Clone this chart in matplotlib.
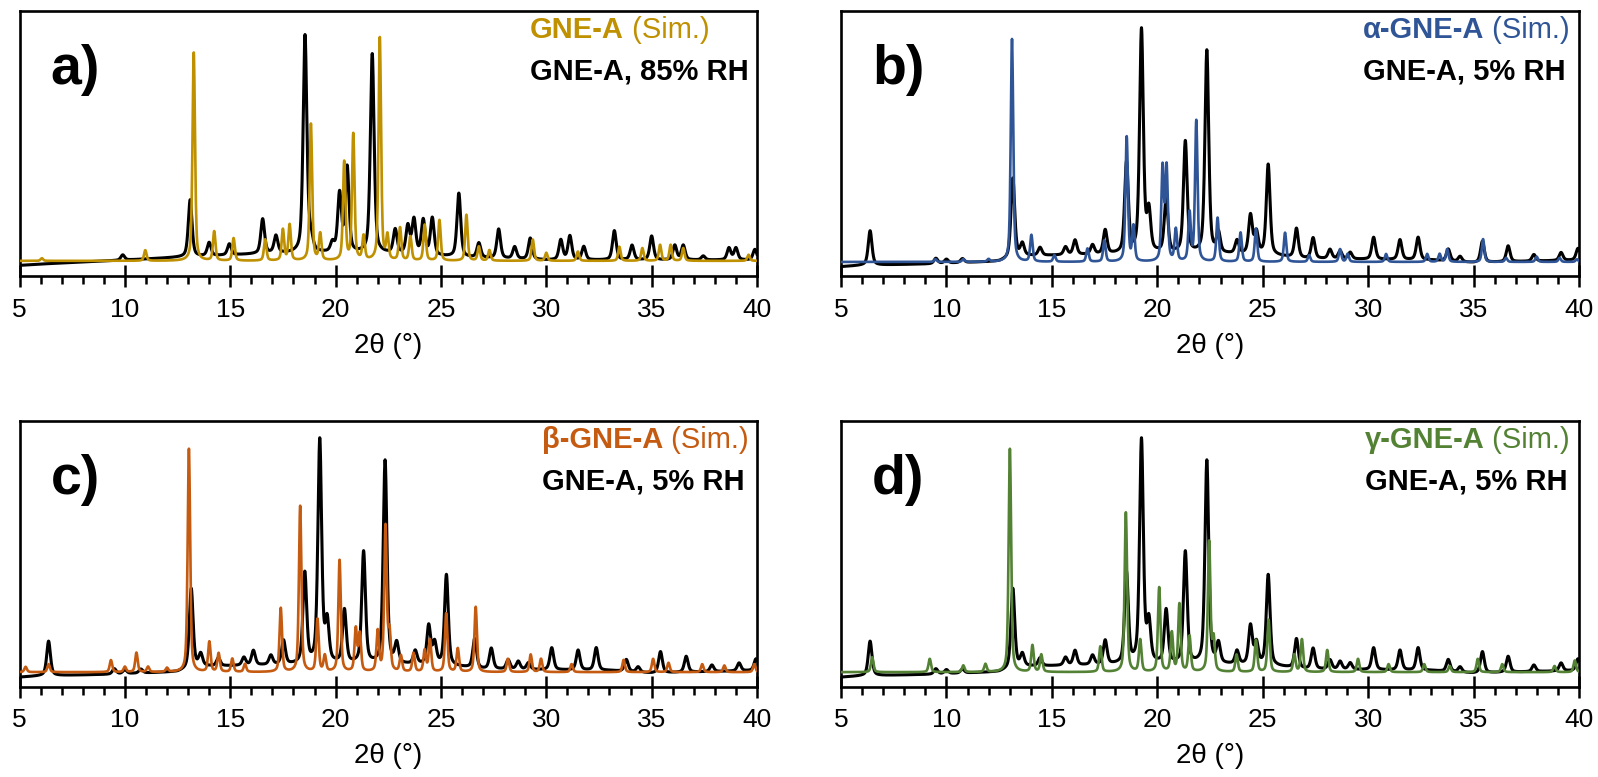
import numpy as np
import matplotlib.pyplot as plt
from matplotlib.ticker import MultipleLocator

plt.rcParams['font.family'] = ['Liberation Sans', 'DejaVu Sans']

# ---- data: peak position (2theta, deg) and peak height above background (% of panel height)
# experimental GNE-A, 85% RH (panel a)
rh85_pos = [9.9, 13.10, 14.0, 14.96, 16.54, 17.17, 18.55, 18.83, 19.85, 20.19, 20.55, 21.74,
            22.83, 23.43, 23.72, 24.16, 24.59, 25.85, 26.8, 27.74, 28.5, 29.24, 30.69, 31.12,
            31.78, 33.23, 34.07, 35.0, 36.1, 36.5, 37.45, 38.67, 39.0, 39.9]
rh85_hts = [2, 21.5, 5, 4.2, 13, 6.5, 82, 5, 3.5, 22, 32, 75,
            9, 10.5, 13, 13, 14, 24, 5.5, 11, 4.5, 8, 7.5, 9,
            5, 11, 5.5, 9, 5.5, 5.5, 1.5, 4.5, 4.5, 4]
rh85_bg_pos = [5, 6, 10, 12.5, 17, 22, 26, 30, 40]
rh85_bg = [4.0, 4.5, 6.0, 7.0, 8.5, 8.5, 7.0, 6.0, 6.0]

# experimental GNE-A, 5% RH (panels b, c, d)
rh5_pos = [6.38, 9.5, 10.0, 10.76, 13.15, 13.6, 14.44, 15.65, 16.1, 16.93, 17.53, 18.54,
           19.25, 19.6, 20.42, 21.33, 22.35, 22.9, 23.78, 24.42, 24.7, 25.26, 26.6, 27.39,
           28.19, 28.67, 29.15, 30.26, 31.51, 32.37, 33.8, 34.36, 35.42, 36.64, 37.86, 39.15, 39.95]
rh5_hts = [13, 2, 1.5, 1.5, 30, 4.5, 3, 3, 5.5, 3.5, 9, 34,
           84, 15, 20, 42, 76.5, 7.5, 5, 14.5, 8, 34, 11, 7.8,
           3.5, 3, 2.5, 8.3, 7.5, 8.5, 4.5, 2, 8, 6, 2.5, 3, 4.4]
rh5_bg_pos = [5, 6, 9, 12.5, 13.5, 20, 25, 27, 33, 35, 40]
rh5_bg = [3.5, 4.0, 4.5, 5.5, 7.5, 8.5, 8.0, 6.5, 6.0, 5.0, 6.0]

# simulated GNE-A (panel a)
sim_a_pos = [6.06, 10.97, 13.27, 14.24, 15.16, 16.66, 17.5, 17.82, 18.83, 19.27, 20.41, 20.84,
             21.33, 22.1, 22.46, 23.06, 23.55, 24.23, 24.93, 26.21, 26.8, 27.3, 29.36, 30.0,
             31.5, 33.47, 34.56, 35.4, 35.9, 36.5, 39.6]
sim_a_hts = [1, 4, 78.5, 11, 8.5, 8, 11.7, 13.5, 51.5, 10, 37, 47.5,
             9, 84, 9, 12.3, 9, 13.5, 15.3, 17.3, 5.3, 4, 8, 3,
             3.5, 5.3, 4.8, 6, 6, 4.8, 2.3]

# simulated alpha-GNE-A (panel b)
sim_b_pos = [9.48, 10.8, 12.0, 13.11, 14.03, 15.12, 16.69, 17.49, 18.55, 18.87, 20.25, 20.44,
             20.88, 21.53, 21.85, 22.86, 23.95, 24.68, 26.06, 27.2, 28.67, 29.03, 30.85, 32.8,
             33.39, 33.75, 35.45, 36.54, 37.99, 39.08, 39.9]
sim_b_hts = [1, 1, 1, 84, 10, 2.5, 5, 8, 47, 13, 35, 35,
             12, 18, 53, 16.5, 11, 12.4, 11, 2.5, 4.8, 3, 3, 3,
             3, 4.8, 8.6, 1.5, 2, 1.5, 1]

# simulated beta-GNE-A (panel c)
sim_c_pos = [5.29, 6.38, 9.34, 10.0, 10.55, 11.1, 12.0, 13.04, 14.01, 14.45, 15.1, 15.7,
             17.4, 18.32, 19.14, 19.49, 20.19, 20.96, 21.15, 22.0, 22.37, 22.56, 23.1, 23.7,
             24.23, 24.48, 25.25, 25.8, 26.65, 28.18, 29.26, 29.75, 31.2, 33.67, 35.07, 35.8,
             37.4, 38.45, 39.87]
sim_c_hts = [2, 3, 4.5, 2, 7.3, 2, 1.5, 84, 11.3, 7, 5, 3,
             24, 62.4, 19.7, 6, 42, 16, 14, 15, 54.5, 14, 6, 7,
             8, 12, 22, 8.8, 24.5, 5, 6.6, 5, 3, 4.6, 5, 3.5,
             3, 2.5, 3]

# simulated gamma-GNE-A (panel d)
sim_d_pos = [6.48, 9.21, 10.8, 11.85, 13.01, 14.08, 14.5, 17.3, 18.51, 19.19, 20.09, 20.69,
             21.05, 21.53, 22.46, 22.67, 23.76, 24.68, 25.28, 26.5, 26.86, 28.06, 29.52, 30.97,
             32.66, 33.87, 35.2, 36.36, 38.84, 39.8]
sim_d_hts = [5.6, 5, 2.5, 3, 84, 10, 6.5, 9.6, 60, 12, 31.7, 14.6,
             25.4, 13.3, 48.8, 12, 6.5, 12, 19.6, 6.5, 12.3, 8.3, 5, 3,
             3, 2.3, 5, 3, 2.3, 4.4]
sim_bg = [5.7, 5.3, 5.4, 5.4]

panel_labels = ['a)', 'b)', 'c)', 'd)']
sim_names = ['GNE-A', 'α-GNE-A', 'β-GNE-A', 'γ-GNE-A']
exp_names = ['GNE-A, 85% RH', 'GNE-A, 5% RH', 'GNE-A, 5% RH', 'GNE-A, 5% RH']
sim_colors = ['#BF9000', '#2F5597', '#C55A11', '#548235']

# ---- plot settings
W, H = 1598, 777
fs_label = 40   # panel letter
fs_key = 21     # key text
fs_tick = 19
fs_xlabel = 20
lw_exp = 2.2
lw_sim = 1.9
fwhm_exp = 0.21
fwhm_sim = 0.14

# axes boxes in pixels: left, top, width, height
boxes = [(19.5, 10.7, 737.5, 265.3), (841, 10.7, 738, 265.3),
         (19.5, 420.7, 737.5, 265.8), (841, 420.7, 738, 265.8)]

x = np.linspace(5, 40, 3501)


def profile(pos, hts, fwhm):
    # pseudo-Voigt peaks
    y = np.zeros_like(x)
    for p, h in zip(pos, hts):
        d = (x - p) / (fwhm / 2)
        y += h * (0.5 / (1 + d ** 2) + 0.5 * np.exp(-np.log(2) * d ** 2))
    return y


exp_85 = profile(rh85_pos, rh85_hts, fwhm_exp) + np.interp(x, rh85_bg_pos, rh85_bg)
exp_5 = profile(rh5_pos, rh5_hts, fwhm_exp) + np.interp(x, rh5_bg_pos, rh5_bg)
exp_curves = [exp_85, exp_5, exp_5, exp_5]
sim_curves = [profile(p, h, fwhm_sim) + b for p, h, b in
              zip([sim_a_pos, sim_b_pos, sim_c_pos, sim_d_pos],
                  [sim_a_hts, sim_b_hts, sim_c_hts, sim_d_hts], sim_bg)]

fig = plt.figure(figsize=(W / 100, H / 100), dpi=100)
axes = []
for i in range(4):
    l, t, w, h = boxes[i]
    ax = fig.add_axes([l / W, 1 - (t + h) / H, w / W, h / H])
    ax.plot(x, exp_curves[i], color='black', lw=lw_exp, zorder=2)
    ax.plot(x, sim_curves[i], color=sim_colors[i], lw=lw_sim, zorder=3)
    ax.set_xlim(5, 40)
    ax.set_ylim(0, 100)
    ax.xaxis.set_major_locator(MultipleLocator(5))
    ax.xaxis.set_minor_locator(MultipleLocator(1))
    ax.tick_params(axis='x', which='major', direction='inout', length=16, width=1.8,
                   labelsize=fs_tick, pad=7.5)
    ax.tick_params(axis='x', which='minor', direction='out', length=6, width=1.8)
    ax.tick_params(axis='y', left=False, labelleft=False)
    for s in ax.spines.values():
        s.set_linewidth(1.9)
    ax.set_xlabel('2θ (°)', fontsize=fs_xlabel, labelpad=8)
    axes.append(ax)

# texts placed in pixel offsets from the axes top-left corner
fig.canvas.draw()
r = fig.canvas.get_renderer()
for i, ax in enumerate(axes):
    l, t, w, h = boxes[i]

    def fx(px):
        return px / w

    def fy(py):
        return 1 - py / h

    ax.text(fx(31), fy(73), panel_labels[i], fontsize=fs_label, fontweight='bold',
            transform=ax.transAxes, ha='left', va='baseline')
    t1 = ax.text(0, fy(27.5), sim_names[i], fontsize=fs_key, fontweight='bold',
                 color=sim_colors[i], transform=ax.transAxes, ha='left', va='baseline')
    t2 = ax.text(0, fy(27.5), ' (Sim.)', fontsize=fs_key, color=sim_colors[i],
                 transform=ax.transAxes, ha='left', va='baseline')
    t3 = ax.text(0, fy(69), exp_names[i], fontsize=fs_key, fontweight='bold',
                 color='black', transform=ax.transAxes, ha='left', va='baseline')
    w1 = t1.get_window_extent(r).width
    w2 = t2.get_window_extent(r).width
    w3 = t3.get_window_extent(r).width
    x0 = 729 - max(w1 + w2, w3)
    t1.set_x(fx(x0))
    t2.set_x(fx(x0 + w1))
    t3.set_x(fx(x0))

fig.savefig('out.png', dpi=100)
